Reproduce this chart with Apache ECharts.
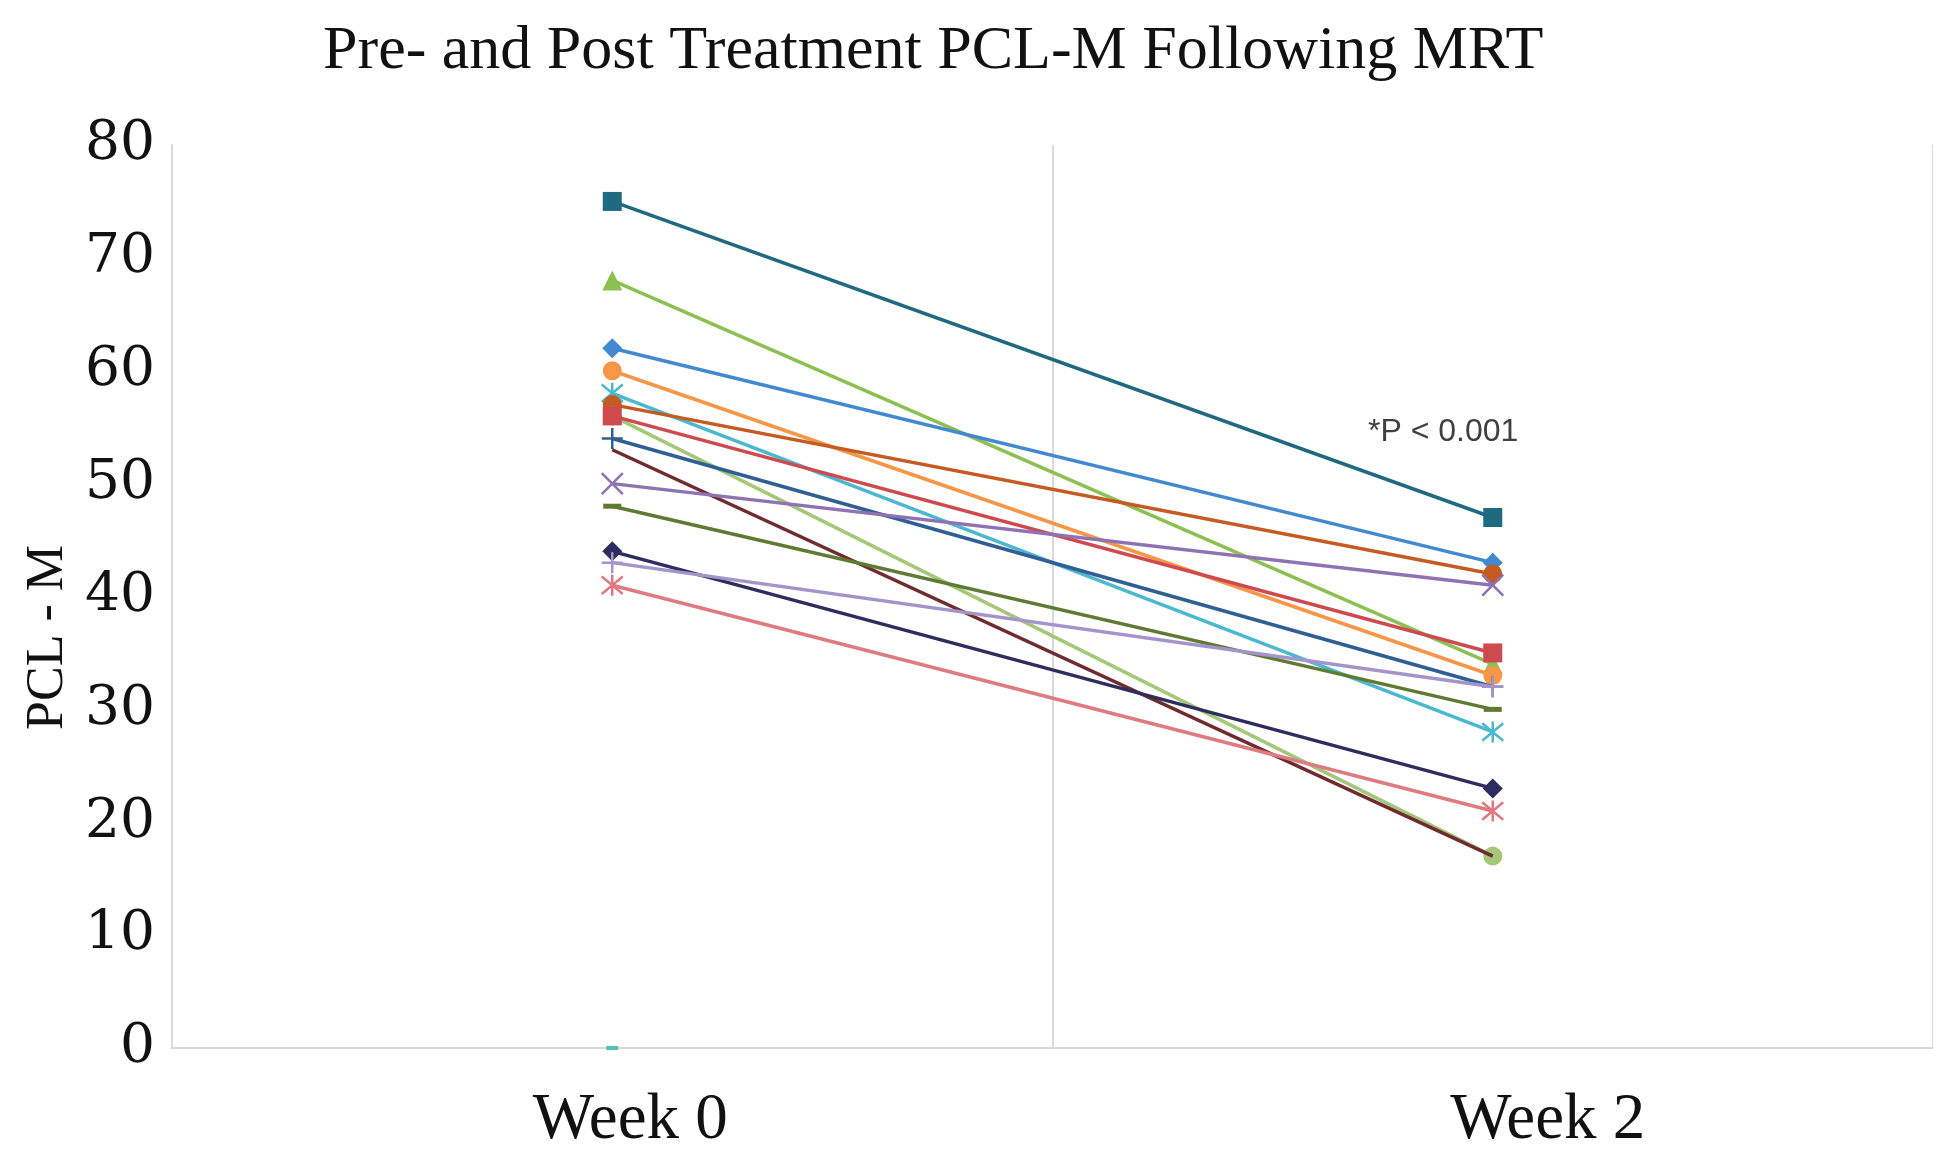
<!DOCTYPE html>
<html><head><meta charset="utf-8">
<script src="https://cdn.jsdelivr.net/npm/echarts@6/dist/echarts.min.js"></script>
<style>html,body{margin:0;padding:0;background:#fff}#c{width:1933px;height:1169px}</style>
</head><body><div id="c"></div>
<script>
const categories = ['Week 0', 'Week 2'];
const yTicks = [0, 10, 20, 30, 40, 50, 60, 70, 80];
const s1 = [75, 47];
const s2 = [68, 34];
const s3 = [62, 43];
const s4 = [60, 33];
const s5 = [58, 28];
const s6 = [57, 42];
const s7 = [56, 17];
const s8 = [56, 35];
const s9 = [54, 32];
const s10 = [53, 17];
const s11 = [50, 41];
const s12 = [48, 30];
const s13 = [44, 23];
const s14 = [43, 32];
const s15 = [41, 21];
const s16 = [0, null];
const annotation = '*P < 0.001';

const X = 'path://M0,0 L10,10 M10,0 L0,10';
const AST = 'path://M0,0 L10,10 M10,0 L0,10 M5,-1 L5,11';
const PLUS = 'path://M5,0 L5,10 M0,5 L10,5';
const DASH = 'rect';

const defs = [
  [s1, '#1f6a80', 'rect', 19],
  [s2, '#8cc152', 'triangle', 20],
  [s3, '#4389cf', 'diamond', 20],
  [s4, '#f79646', 'circle', 19],
  [s5, '#4bb8d0', AST, 21],
  [s6, '#c55a22', 'circle', 19],
  [s7, '#a5c878', 'circle', 19],
  [s8, '#cf4a4f', 'rect', 19],
  [s9, '#2f5f93', PLUS, 21],
  [s10, '#6f2b2e', 'none', 0],
  [s11, '#8f72b4', X, 21],
  [s12, '#5f7a32', DASH, [18, 5]],
  [s13, '#2d2d5e', 'diamond', 20],
  [s14, '#a394cc', PLUS, 21],
  [s15, '#df7a80', AST, 21],
  [s16, '#4fc4b0', DASH, [12, 4]]
];

const series = defs.map((d, i) => {
  const isPath = typeof d[2] === 'string' && d[2].startsWith('path://');
  return {
    type: 'line',
    data: d[0],
    symbol: d[2],
    symbolSize: d[3],
    showSymbol: true,
    z: 2 + i,
    lineStyle: { color: d[1], width: 3.5 },
    itemStyle: isPath ? { color: d[1], borderColor: d[1], borderWidth: 2.5 } : { color: d[1] },
    emphasis: { disabled: true }
  };
});

const chart = echarts.init(document.getElementById('c'), null, { renderer: 'canvas' });
chart.setOption({
  animation: false,
  backgroundColor: '#ffffff',
  title: {
    text: 'Pre- and Post Treatment PCL-M Following MRT',
    left: 318, top: 16,
    textStyle: { fontFamily: 'Liberation Serif', fontWeight: 'normal', fontSize: 62, color: '#111' }
  },
  grid: { left: 172, top: 145, width: 1777, height: 903 },
  xAxis: {
    type: 'category',
    data: categories,
    boundaryGap: true,
    axisLine: { show: true, lineStyle: { color: '#d9d9d9', width: 2 } },
    axisTick: { show: false },
    splitLine: { show: true, lineStyle: { color: '#d9d9d9', width: 2 } },
    axisLabel: {
      fontFamily: 'Liberation Serif', fontSize: 65, color: '#111', margin: 40,
      formatter: (v, i) => '{a' + i + '|' + v + '}',
      rich: {
        a0: { fontFamily: 'Liberation Serif', fontSize: 65, color: '#111', padding: [0, 0, 0, 36] },
        a1: { fontFamily: 'Liberation Serif', fontSize: 65, color: '#111', padding: [0, 0, 0, 110] }
      }
    }
  },
  yAxis: {
    type: 'value',
    min: 0, max: 80, interval: 10,
    name: 'PCL - M',
    nameLocation: 'middle',
    nameGap: 87,
    nameRotate: 90,
    nameTextStyle: { fontFamily: 'Liberation Serif', fontSize: 52, color: '#111', padding: [0, 82, 0, 0] },
    axisLine: { show: true, lineStyle: { color: '#d9d9d9', width: 2 } },
    axisTick: { show: false },
    splitLine: { show: false },
    axisLabel: {
      fontFamily: 'DejaVu Serif', fontSize: 55, color: '#111', margin: 17,
      formatter: v => yTicks.includes(v) ? String(v) : ''
    }
  },
  graphic: [{
    type: 'text', left: 1368, top: 416,
    style: { text: annotation, fontFamily: 'Liberation Sans', fontSize: 32, fill: '#404040' }
  }],
  series: series
});
</script></body></html>
